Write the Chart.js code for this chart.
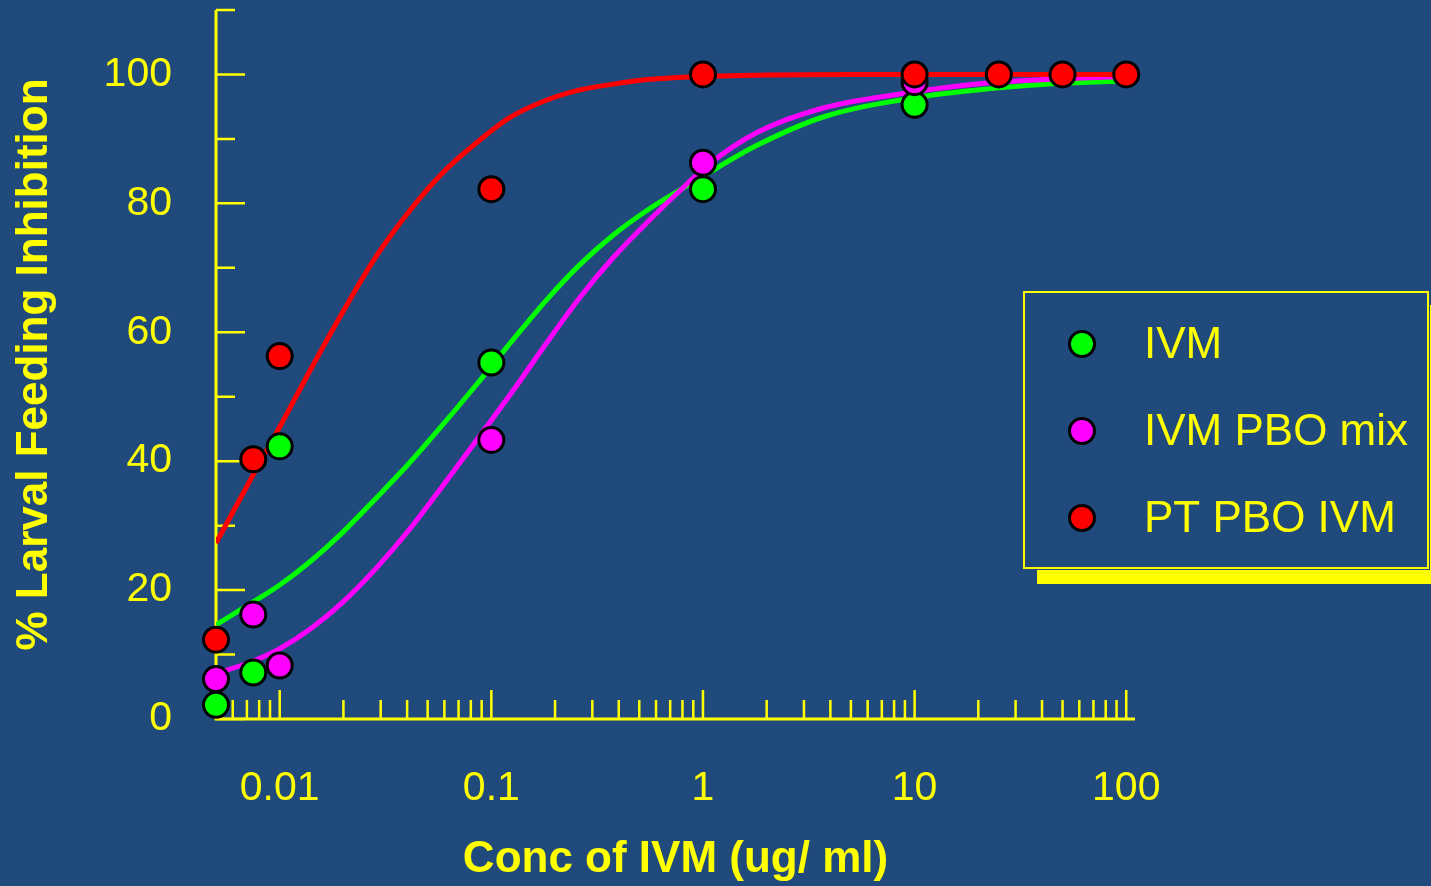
<!DOCTYPE html>
<html>
<head>
<meta charset="utf-8">
<script src="https://cdn.jsdelivr.net/npm/chart.js@4/dist/chart.umd.min.js"></script>
<style>
html, body { margin: 0; padding: 0; background: #214a7c; }
canvas { display: block; }
</style>
</head>
<body>
<canvas id="c" width="1431" height="886"></canvas>
<script>
// ---- Data ----
const seriesLabels = ['IVM', 'IVM PBO mix', 'PT PBO IVM'];

// measured points
const conc = [0.005, 0.0075, 0.01, 0.1, 1, 10];
const ivm = [2.2, 7.2, 42.3, 55.3, 82.2, 95.3];
const ivmPbo = [6.2, 16.2, 8.3, 43.3, 86.3, 98.8];
const ptConc = [0.005, 0.0075, 0.01, 0.1, 1, 10, 25, 50, 100];
const ptPbo = [12.3, 40.3, 56.3, 82.2, 100, 100, 100, 100, 100];

// fitted curves
const ivmFitConc = [0.005, 0.00735, 0.01, 0.0139, 0.0199, 0.0286, 0.0412, 0.0591, 0.0851, 0.127, 0.182, 0.262, 0.377, 0.543, 0.78, 1.0, 1.8, 3.7, 10, 22.7, 47, 100];
const ivmFit = [14.6, 18.0, 20.8, 24.4, 29.0, 34.3, 39.8, 45.7, 51.9, 58.9, 65.0, 70.5, 75.1, 78.9, 82.1, 84.2, 89.0, 93.4, 96.4, 97.8, 98.6, 99.0];
const ivmPboFitConc = [0.005, 0.0075, 0.01, 0.014, 0.02, 0.0286, 0.041, 0.059, 0.085, 0.127, 0.182, 0.262, 0.377, 0.543, 0.78, 1.05, 1.8, 3.7, 10, 22.7, 47, 100];
const ivmPboFit = [7.0, 9.0, 10.9, 14.0, 18.2, 23.4, 29.4, 36.2, 43.2, 51.0, 58.3, 65.4, 71.6, 77.0, 82.0, 85.9, 91.0, 94.8, 97.3, 98.7, 99.3, 99.7];
const ptPboFitConc = [0.005, 0.00776, 0.01, 0.01387, 0.0199, 0.0286, 0.0412, 0.0591, 0.0851, 0.122, 0.182, 0.262, 0.377, 0.543, 1, 2, 5, 10, 100];
const ptPboFit = [27.3, 38.8, 45.3, 54.0, 63.2, 71.8, 78.9, 84.8, 89.4, 93.3, 96.0, 97.6, 98.5, 99.2, 99.7, 99.9, 100, 100, 100];

// ticks
const xTickValues = [0.01, 0.1, 1, 10, 100];
const xTickLabels = ['0.01', '0.1', '1', '10', '100'];
const yTickValues = [0, 20, 40, 60, 80, 100];
const yTickLabels = ['0', '20', '40', '60', '80', '100'];
const yTickMarks = [0, 10, 20, 30, 40, 50, 60, 70, 80, 90, 100, 110];
const xMinorMult = [2, 3, 4, 5, 6, 7, 8, 9];

// ---- Styles ----
const BG = '#214a7c';
const YELLOW = '#ffff00';
const COLORS = ['#00ff00', '#ff00ff', '#ff0000'];
const FONT = "'Liberation Sans', Arial, Helvetica, sans-serif";

function pts(xs, ys) { return xs.map((v, i) => ({ x: v, y: ys[i] })); }

const curveSets = [[ivmFitConc, ivmFit], [ivmPboFitConc, ivmPboFit], [ptPboFitConc, ptPboFit]].map((d, i) => ({
  label: seriesLabels[i] + ' fit',
  data: pts(d[0], d[1]),
  showLine: true,
  borderColor: COLORS[i],
  borderWidth: 5,
  pointRadius: 0,
  cubicInterpolationMode: 'monotone',
  fill: false,
  order: 6 - i,
  isCurve: true
}));

const pointSets = [[conc, ivm], [conc, ivmPbo], [ptConc, ptPbo]].map((d, i) => ({
  label: seriesLabels[i],
  data: pts(d[0], d[1]),
  showLine: false,
  backgroundColor: COLORS[i],
  borderColor: '#000000',
  borderWidth: 3,
  pointRadius: 12.5,
  pointHoverRadius: 12.5,
  clip: false,
  order: 3 - i
}));

const axisPlugin = {
  id: 'customAxes',
  beforeDatasetsDraw(chart) {
    const { ctx, chartArea: a, scales: { x, y } } = chart;
    ctx.save();
    ctx.strokeStyle = YELLOW;
    ctx.lineWidth = 3;
    ctx.beginPath();
    ctx.moveTo(a.left, a.top);
    ctx.lineTo(a.left, a.bottom);
    ctx.lineTo(a.right, a.bottom);
    ctx.stroke();
    ctx.lineWidth = 2.5;
    ctx.beginPath();
    yTickMarks.forEach(v => {
      const py = y.getPixelForValue(v);
      const len = (v % 20 === 0) ? 29 : 19;
      ctx.moveTo(a.left, py);
      ctx.lineTo(a.left + len, py);
    });
    const decades = [0.001, 0.01, 0.1, 1, 10, 100];
    decades.forEach(d => {
      if (d >= x.min && d <= x.max) {
        const major = x.getPixelForValue(d);
        ctx.moveTo(major, a.bottom);
        ctx.lineTo(major, a.bottom - 29);
      }
      xMinorMult.forEach(m => {
        const v = d * m;
        if (v > x.min * 1.0001 && v < x.max) {
          const px = x.getPixelForValue(v);
          ctx.moveTo(px, a.bottom);
          ctx.lineTo(px, a.bottom - 19);
        }
      });
    });
    ctx.stroke();
    ctx.restore();
  }
};

const legendPlugin = {
  id: 'boxLegend',
  afterDraw(chart) {
    const ctx = chart.ctx;
    const bx = 1024, by = 292, bw = 404, bh = 276;
    ctx.save();
    ctx.fillStyle = YELLOW;
    ctx.fillRect(bx + 13, by + 13, bw, bh + 3);
    ctx.fillStyle = BG;
    ctx.fillRect(bx - 2, by - 2, bw + 4, bh + 4);
    ctx.strokeStyle = YELLOW;
    ctx.lineWidth = 2;
    ctx.strokeRect(bx, by, bw, bh);
    const sets = chart.data.datasets.filter(d => !d.isCurve);
    sets.forEach((ds, i) => {
      const cy = 344 + i * 87;
      ctx.beginPath();
      ctx.arc(1082, cy, 12.5, 0, Math.PI * 2);
      ctx.fillStyle = ds.backgroundColor;
      ctx.fill();
      ctx.lineWidth = 3;
      ctx.strokeStyle = '#000000';
      ctx.stroke();
      ctx.fillStyle = YELLOW;
      ctx.font = '44px ' + FONT;
      ctx.textAlign = 'left';
      ctx.textBaseline = 'middle';
      ctx.fillText(ds.label, 1144, cy + 2);
    });
    ctx.restore();
  }
};

new Chart(document.getElementById('c'), {
  type: 'scatter',
  data: { datasets: [...pointSets, ...curveSets] },
  options: {
    responsive: false,
    animation: false,
    devicePixelRatio: 1,
    layout: { autoPadding: false, padding: { left: 0, top: 10, right: 296, bottom: 0 } },
    plugins: { legend: { display: false }, tooltip: { enabled: false } },
    scales: {
      x: {
        type: 'logarithmic',
        min: 0.005,
        max: 110,
        border: { display: false },
        grid: { display: false, drawTicks: false },
        afterBuildTicks: s => { s.ticks = xTickValues.map(v => ({ value: v })); },
        afterFit: s => { s.height = 167; s.paddingLeft = 0; s.paddingRight = 0; },
        ticks: {
          autoSkip: false,
          maxRotation: 0,
          padding: 45,
          color: YELLOW,
          font: { family: FONT, size: 41 },
          callback: v => { const i = xTickValues.indexOf(v); return i >= 0 ? xTickLabels[i] : ''; }
        },
        title: {
          display: true,
          text: 'Conc of IVM (ug/ ml)',
          color: YELLOW,
          font: { family: FONT, size: 44, weight: 'bold', lineHeight: 1.2 },
          padding: { top: 0, bottom: 0 }
        }
      },
      y: {
        type: 'linear',
        min: 0,
        max: 110,
        border: { display: false },
        grid: { display: false, drawTicks: false },
        afterBuildTicks: s => { s.ticks = yTickValues.map(v => ({ value: v })); },
        afterFit: s => { s.width = 216; s.paddingTop = 0; s.paddingBottom = 0; },
        ticks: {
          autoSkip: false,
          padding: 44,
          color: YELLOW,
          font: { family: FONT, size: 41 },
          callback: v => { const i = yTickValues.indexOf(v); return i >= 0 ? yTickLabels[i] : ''; }
        },
        title: {
          display: true,
          text: '% Larval Feeding Inhibition',
          color: YELLOW,
          font: { family: FONT, size: 44, weight: 'bold', lineHeight: 1.2 },
          padding: { top: 8, bottom: 0 }
        }
      }
    }
  },
  plugins: [axisPlugin, legendPlugin]
});
</script>
</body>
</html>
